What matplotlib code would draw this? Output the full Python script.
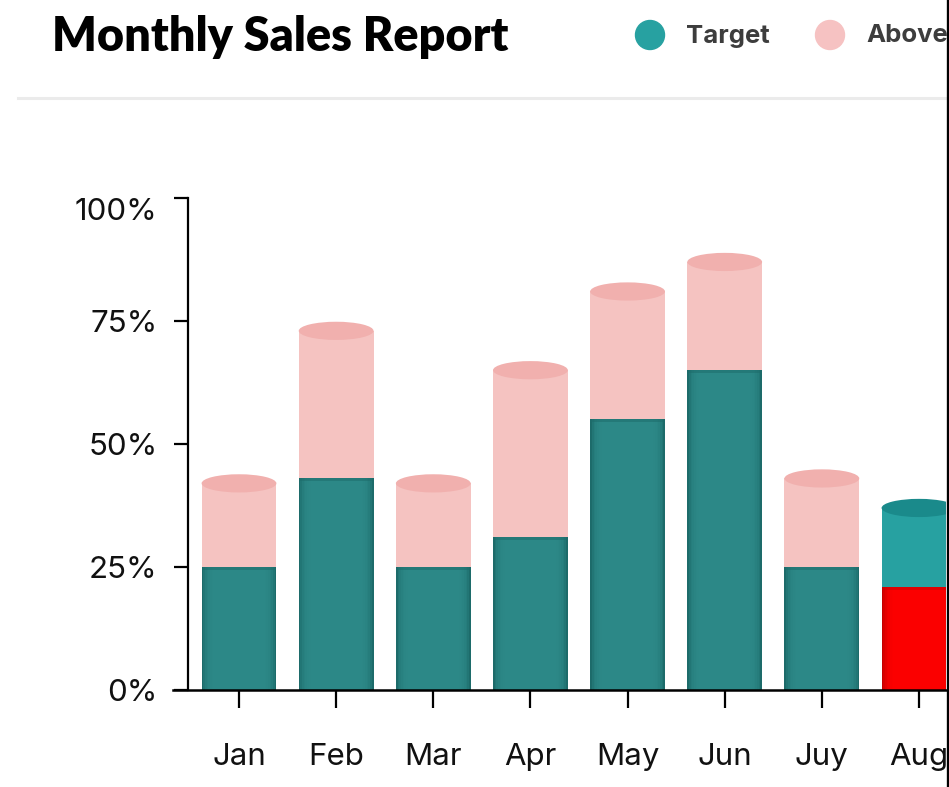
import matplotlib.pyplot as plt
from matplotlib.patches import Ellipse, Circle
from matplotlib.lines import Line2D

W, H = 949, 787

months = ["Jan", "Feb", "Mar", "Apr", "May", "Jun", "Juy", "Aug"]
target = [25, 43, 25, 31, 55, 65, 25, 21]
above = [17, 30, 17, 34, 26, 22, 18, 16]
yticks = [0, 25, 50, 75, 100]
ytick_labels = ["0%", "25%", "50%", "75%", "100%"]
highlight = 7

TEAL = "#2e8b8a"
TEAL_DARK = "#1d6b6a"
PINK = "#f5c3c1"
PINK_TOP = "#f1b0ae"
RED = "#ff0000"
RED_DARK = "#c40000"
TEAL_BRIGHT = "#27a1a1"
TEAL_TOP = "#1a8a8b"


def px(x, y):
    return x / W, 1 - y / H


fig = plt.figure(figsize=(W / 100, H / 100), dpi=100)
fig.patch.set_facecolor("white")

left, bottom = px(188, 690)
right, top = px(946, 198)
ax = fig.add_axes([left, bottom, right - left, top - bottom])

bw = 0.77


def shaded_bar(x, base, h, color, dark):
    # darker edges + top band to fake the cylinder shading
    ax.bar(x, h, bw, bottom=base, color=dark, linewidth=0)
    for k in range(7):
        ax.bar(x, h, bw * (1 - 0.045 * (k + 1)), bottom=base, color=color,
               alpha=0.35, linewidth=0)
    ax.bar(x, 0.6, bw, bottom=base + h - 0.6, color=dark, alpha=0.5, linewidth=0)


for i in range(len(months)):
    total = target[i] + above[i]
    if i == highlight:
        shaded_bar(i, 0, target[i], RED, RED_DARK)
        ax.bar(i, above[i], bw, bottom=target[i], color=TEAL_BRIGHT, linewidth=0)
        top_col = TEAL_TOP
    else:
        shaded_bar(i, 0, target[i], TEAL, TEAL_DARK)
        ax.bar(i, above[i], bw, bottom=target[i], color=PINK, linewidth=0)
        top_col = PINK_TOP
    ax.add_patch(Ellipse((i, total), bw, 3.7, facecolor=top_col, edgecolor="none"))

ax.set_xlim(-0.525, 7.278)
ax.set_ylim(0, 100)

for s in ["top", "right", "bottom"]:
    ax.spines[s].set_visible(False)
ax.spines["left"].set_linewidth(1.6)
ax.plot([-0.68, 7.5], [0, 0], color="black", lw=1.8, clip_on=False, zorder=5)

ax.set_yticks(yticks, ytick_labels)
ax.set_xticks(range(len(months)), months)
ax.tick_params(axis="y", length=10, width=1.6, pad=12, labelsize=22.5,
               labelcolor="#111111")
ax.tick_params(axis="x", length=13, width=1.6, pad=25, labelsize=22.5,
               labelcolor="#111111")
for lab in ax.get_xticklabels() + ax.get_yticklabels():
    lab.set_fontfamily("Inter")
# top label sits below its tick in the original
ax.get_yticklabels()[-1].set_verticalalignment("top")

# header
t = fig.text(*px(52, 37), "Monthly Sales Report", fontsize=30, fontweight="heavy",
             family="Lato", va="center", ha="left", color="black")
fig.canvas.draw()
w = t.get_window_extent().width
t.set_fontsize(30 * 455 / w)

fig.add_artist(Line2D([18 / W, 946 / W], [1 - 98 / H] * 2, color="#ebebeb", lw=2.2))

for cx, col, label, tx in [(650, TEAL_BRIGHT, "Target", 686), (830, "#f6c2c2", "Above", 866)]:
    fig.add_artist(Circle((cx / 100, (H - 35) / 100), 0.145, color=col,
                          transform=fig.dpi_scale_trans))
    fig.text(*px(tx, 36), label, fontsize=18.5, fontweight="bold", family="Inter",
             color="#3d3d3d", va="center", ha="left")

# right border of the cropped card
fig.add_artist(Line2D([947.5 / W] * 2, [0, 1], color="black", lw=2.4))

fig.savefig("out.png", dpi=100)
